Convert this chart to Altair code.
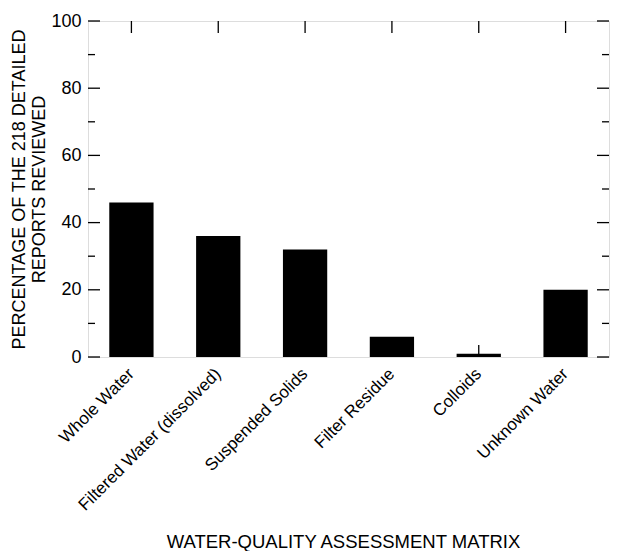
import altair as alt
import pandas as pd

categories = ["Whole Water", "Filtered Water (dissolved)", "Suspended Solids",
              "Filter Residue", "Colloids", "Unknown Water"]
percentages = [46, 36, 32, 6, 1, 20]
major_ticks = [0, 20, 40, 60, 80, 100]
minor_ticks = [10, 30, 50, 70, 90]

W, H = 521, 336
FONT = "Liberation Sans"

bars_df = pd.DataFrame({"matrix": categories, "value": percentages})
cat_df = pd.DataFrame({"matrix": categories})
major_df = pd.DataFrame({"value": major_ticks})
minor_df = pd.DataFrame({"value": minor_ticks})

x_enc = alt.X(
    "matrix:N",
    sort=categories,
    scale=alt.Scale(paddingInner=0.49, paddingOuter=0.245),
    axis=alt.Axis(
        title="WATER-QUALITY ASSESSMENT MATRIX",
        labelAngle=-45, labelAlign="right", labelBaseline="middle",
        labelPadding=14, labelFontSize=17, labelFont=FONT, labelColor="black",
        labelLimit=400,
        ticks=False, domain=False,
        titleFont=FONT, titleFontSize=18.5, titleFontWeight="normal", titleColor="black",
        titleX=255, titleY=190, titleBaseline="alphabetic", titleAlign="center",
    ),
)
y_enc = alt.Y(
    "value:Q",
    scale=alt.Scale(domain=[0, 100], nice=False),
    axis=alt.Axis(
        title=["PERCENTAGE OF THE 218 DETAILED", "REPORTS REVIEWED"],
        values=major_ticks, ticks=False, domain=False, grid=False,
        labelFontSize=18, labelFont=FONT, labelColor="black", labelPadding=7,
        titleFont=FONT, titleFontSize=18, titleFontWeight="normal", titleColor="black",
        titleLineHeight=20, titlePadding=2,
    ),
)

bars = alt.Chart(bars_df).mark_bar(color="black").encode(x=x_enc, y=y_enc)

tick_style = dict(color="black", strokeWidth=1.3)
top_ticks = alt.Chart(cat_df).mark_rule(**tick_style).encode(
    x=x_enc, y=alt.value(0), y2=alt.value(12))
bottom_ticks = alt.Chart(cat_df).mark_rule(**tick_style).encode(
    x=x_enc, y=alt.value(H - 12), y2=alt.value(H))
left_major = alt.Chart(major_df).mark_rule(**tick_style).encode(
    y=y_enc, x=alt.value(0), x2=alt.value(12))
right_major = alt.Chart(major_df).mark_rule(**tick_style).encode(
    y=y_enc, x=alt.value(W - 12), x2=alt.value(W))
left_minor = alt.Chart(minor_df).mark_rule(**tick_style).encode(
    y=y_enc, x=alt.value(0), x2=alt.value(7))
right_minor = alt.Chart(minor_df).mark_rule(**tick_style).encode(
    y=y_enc, x=alt.value(W - 7), x2=alt.value(W))

chart = alt.layer(
    bars, top_ticks, bottom_ticks, left_major, right_major, left_minor, right_minor
).properties(
    width=W, height=H,
    autosize=alt.AutoSizeParams(type="none"),
    padding={"left": 80, "top": 13, "right": 1, "bottom": 194},
).configure_view(
    stroke="black", strokeWidth=1.6
).configure(background="white")

chart.save("out.html", embed_options={"renderer": "svg", "actions": False})
